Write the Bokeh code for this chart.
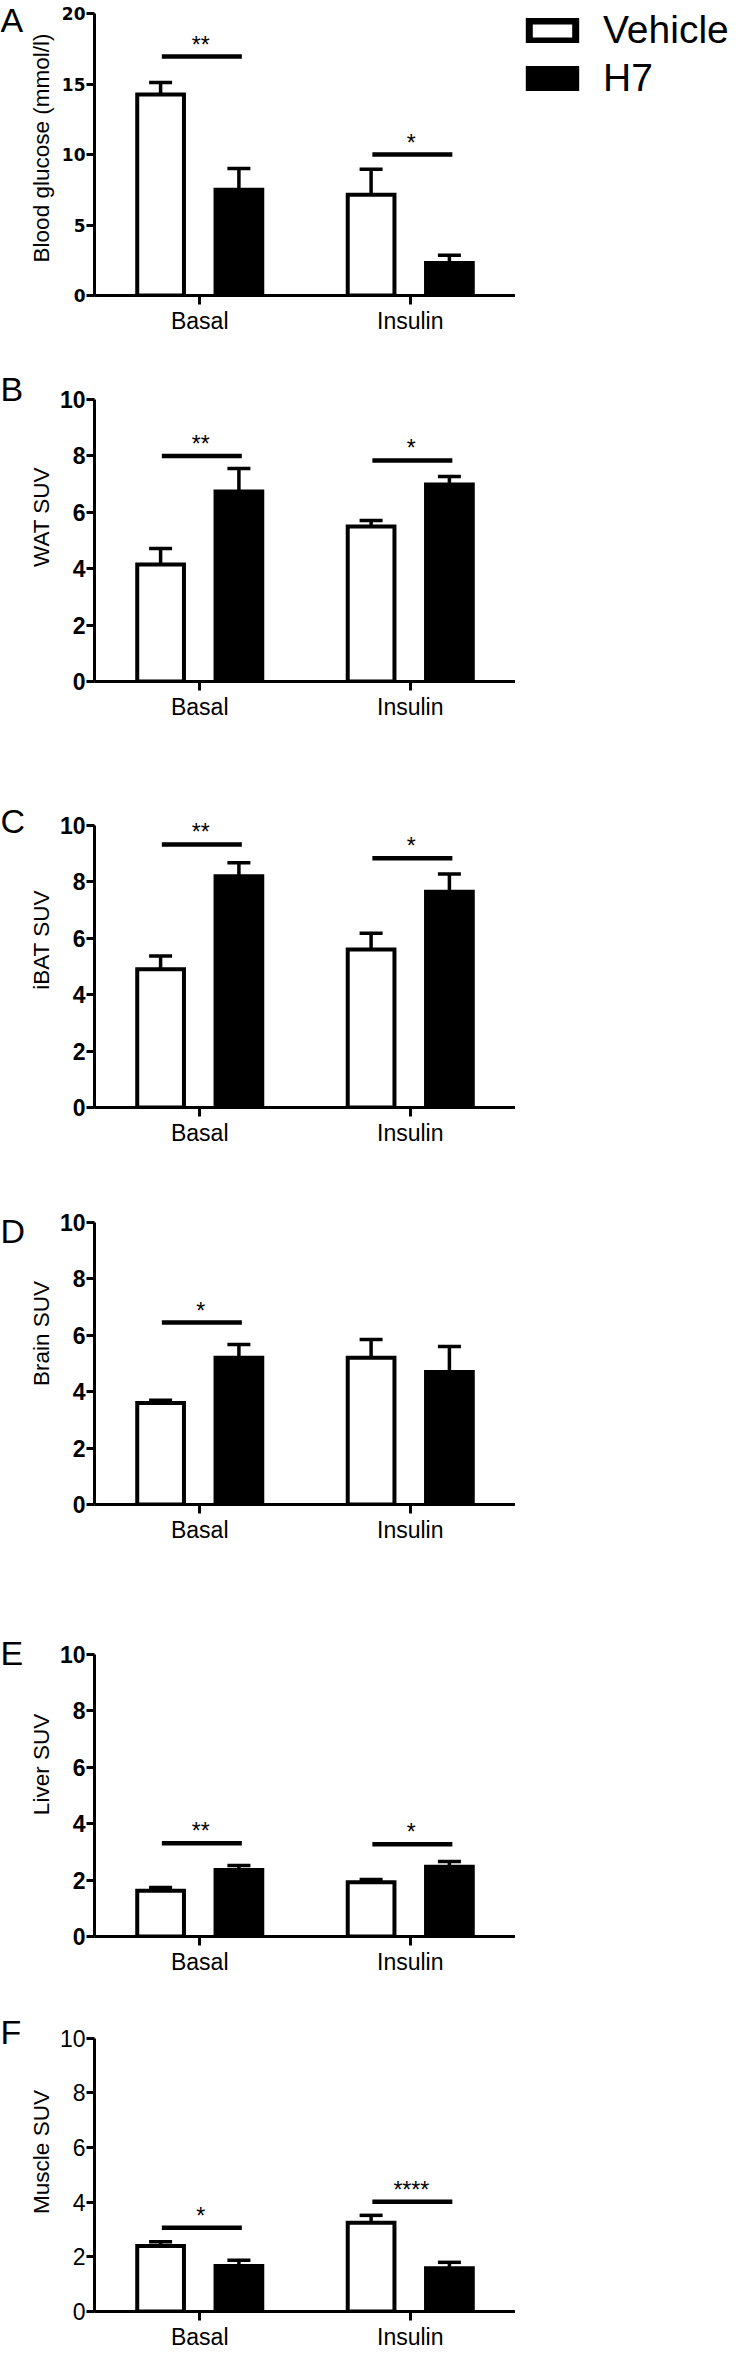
from bokeh.plotting import figure
from bokeh.models import (ColumnDataSource, FactorRange, Range1d, FixedTicker,
                          Whisker, TeeHead, Label, Legend, LegendItem)
from bokeh.transform import dodge
from bokeh.layouts import column, row
from bokeh.core.properties import value
from bokeh.embed import file_html
from bokeh.resources import INLINE

# ---------------- data ----------------
categories = ["Basal", "Insulin"]
groups = ["Vehicle", "H7"]
panel_letters = ["A", "B", "C", "D", "E", "F"]

# A: blood glucose (mmol/l)
glucose_vehicle = [14.25, 7.15]
glucose_vehicle_sem = [0.85, 1.80]
glucose_h7 = [7.50, 2.30]
glucose_h7_sem = [1.50, 0.55]
glucose_sig_cat = ["Basal", "Insulin"]
glucose_sig_y = [16.95, 10.0]
glucose_sig_text = ["**", "*"]

# B: WAT SUV
wat_vehicle = [4.15, 5.50]
wat_vehicle_sem = [0.57, 0.21]
wat_h7 = [6.74, 6.99]
wat_h7_sem = [0.81, 0.28]
wat_sig_cat = ["Basal", "Insulin"]
wat_sig_y = [8.0, 7.84]
wat_sig_text = ["**", "*"]

# C: iBAT SUV
ibat_vehicle = [4.90, 5.60]
ibat_vehicle_sem = [0.47, 0.58]
ibat_h7 = [8.20, 7.65]
ibat_h7_sem = [0.48, 0.63]
ibat_sig_cat = ["Basal", "Insulin"]
ibat_sig_y = [9.33, 8.84]
ibat_sig_text = ["**", "*"]

# D: Brain SUV
brain_vehicle = [3.60, 5.20]
brain_vehicle_sem = [0.10, 0.65]
brain_h7 = [5.20, 4.70]
brain_h7_sem = [0.47, 0.90]
brain_sig_cat = ["Basal"]
brain_sig_y = [6.45]
brain_sig_text = ["*"]

# E: Liver SUV
liver_vehicle = [1.62, 1.92]
liver_vehicle_sem = [0.12, 0.10]
liver_h7 = [2.36, 2.47]
liver_h7_sem = [0.16, 0.19]
liver_sig_cat = ["Basal", "Insulin"]
liver_sig_y = [3.31, 3.27]
liver_sig_text = ["**", "*"]

# F: Muscle SUV
muscle_vehicle = [2.40, 3.25]
muscle_vehicle_sem = [0.15, 0.27]
muscle_h7 = [1.67, 1.58]
muscle_h7_sem = [0.21, 0.22]
muscle_sig_cat = ["Basal", "Insulin"]
muscle_sig_y = [3.07, 4.02]
muscle_sig_text = ["*", "****"]

# ---------------- style ----------------
FONT = "Liberation Sans"
OFF = 0.186
BAR_W = 0.222
LETTER_W = 25
LEFT = 90 - LETTER_W
FRAME_W = 425


def bare_fig(width, height, y_top, bottom):
    f = figure(width=width, height=height,
               x_range=Range1d(0, width), y_range=Range1d(0, y_top),
               x_axis_type=None, y_axis_type=None,
               min_border_left=0, min_border_right=0, min_border_top=0,
               min_border_bottom=bottom,
               output_backend="svg", toolbar_location=None, tools="")
    f.outline_line_color = None
    f.xgrid.visible = False
    f.ygrid.visible = False
    return f


def make_panel(letter, letter_dy, ylabel, y_end, y_ticks, veh, veh_sem, h7, h7_sem,
               sig_cat, sig_y, sig_text, gap, plot_h, bottom,
               tick_font, tick_size, tick_style, ylabel_standoff):
    """gap: px between figure top and the top of the value axis; plot_h: px from 0 to y_end."""
    height = gap + plot_h + bottom
    y_top = y_end * (gap + plot_h) / plot_h
    p = figure(x_range=FactorRange(*categories), y_range=Range1d(0, y_top),
               width=LEFT + FRAME_W, height=height,
               min_border_left=LEFT, min_border_right=0,
               min_border_top=0, min_border_bottom=bottom,
               output_backend="svg", toolbar_location=None, tools="")
    p.outline_line_color = None
    p.xgrid.visible = False
    p.ygrid.visible = False

    src = ColumnDataSource(dict(
        cat=categories,
        veh=veh, veh_up=[m + e for m, e in zip(veh, veh_sem)],
        h7=h7, h7_up=[m + e for m, e in zip(h7, h7_sem)],
    ))

    # error bars (upper only), drawn under the bars
    for col, off in (("veh", -OFF), ("h7", OFF)):
        w = Whisker(source=src, base=dodge("cat", off, range=p.x_range),
                    lower=col, upper=col + "_up",
                    line_color="black", line_width=3.5,
                    lower_head=None,
                    upper_head=TeeHead(size=23, line_width=3.5, line_color="black"))
        p.add_layout(w)

    p.vbar(x=dodge("cat", -OFF, range=p.x_range), top="veh", width=BAR_W, source=src,
           fill_color="white", line_color="black", line_width=4, line_join="miter")
    p.vbar(x=dodge("cat", OFF, range=p.x_range), top="h7", width=BAR_W, source=src,
           fill_color="black", line_color="black", line_width=4, line_join="miter")

    sig = ColumnDataSource(dict(cat=sig_cat, y=sig_y, txt=sig_text))
    p.segment(x0=dodge("cat", -0.18, range=p.x_range), x1=dodge("cat", 0.20, range=p.x_range),
              y0="y", y1="y", source=sig, line_color="black", line_width=4.5)
    p.text(x=dodge("cat", 0.005, range=p.x_range), y="y", text="txt", source=sig,
           text_align="center", text_baseline="alphabetic", y_offset=-12,
           text_font=value(FONT), text_font_size="23px", text_color="black")

    xa = p.xaxis[0]
    xa.axis_line_width = 3
    xa.axis_line_color = "black"
    xa.major_tick_line_width = 3
    xa.major_tick_line_color = "black"
    xa.major_tick_out = 9
    xa.major_tick_in = 0
    xa.minor_tick_line_color = None
    xa.major_label_standoff = 3
    xa.major_label_text_font = FONT
    xa.major_label_text_font_size = "23px"
    xa.major_label_text_color = "black"

    ya = p.yaxis[0]
    ya.bounds = (0, y_end)
    ya.ticker = FixedTicker(ticks=y_ticks)
    ya.axis_line_width = 3
    ya.axis_line_color = "black"
    ya.major_tick_line_width = 3
    ya.major_tick_line_color = "black"
    ya.major_tick_out = 8
    ya.major_tick_in = 0
    ya.minor_tick_line_color = None
    ya.major_label_standoff = 1
    ya.major_label_text_font = tick_font
    ya.major_label_text_font_size = tick_size
    ya.major_label_text_font_style = tick_style
    ya.major_label_text_color = "black"
    ya.axis_label = ylabel
    ya.axis_label_text_font = FONT
    ya.axis_label_text_font_size = "22.5px"
    ya.axis_label_text_font_style = "normal"
    ya.axis_label_text_color = "black"
    ya.axis_label_standoff = ylabel_standoff

    # panel letter, in a narrow figure whose frame matches the panel's frame
    lf = bare_fig(LETTER_W, height, y_top, bottom)
    lf.add_layout(Label(x=0, y=y_end - letter_dy * y_end / plot_h, text=letter,
                        text_font=FONT, text_font_size="34px",
                        text_align="left", text_baseline="middle", text_color="black"))
    return lf, p


lA, pA = make_panel(panel_letters[0], 6, "Blood glucose (mmol/l)", 20, [0, 5, 10, 15, 20],
                    glucose_vehicle, glucose_vehicle_sem, glucose_h7, glucose_h7_sem,
                    glucose_sig_cat, glucose_sig_y, glucose_sig_text,
                    13, 282, 57, "DejaVu Sans", "17px", "bold", 5)
lB, pB = make_panel(panel_letters[1], -11, "WAT SUV", 10, [0, 2, 4, 6, 8, 10],
                    wat_vehicle, wat_vehicle_sem, wat_h7, wat_h7_sem,
                    wat_sig_cat, wat_sig_y, wat_sig_text,
                    47, 282, 91, FONT, "23px", "bold", 3)
lC, pC = make_panel(panel_letters[2], -5, "iBAT SUV", 10, [0, 2, 4, 6, 8, 10],
                    ibat_vehicle, ibat_vehicle_sem, ibat_h7, ibat_h7_sem,
                    ibat_sig_cat, ibat_sig_y, ibat_sig_text,
                    53, 282, 55, FONT, "23px", "bold", 3)
lD, pD = make_panel(panel_letters[3], 8, "Brain SUV", 10, [0, 2, 4, 6, 8, 10],
                    brain_vehicle, brain_vehicle_sem, brain_h7, brain_h7_sem,
                    brain_sig_cat, brain_sig_y, brain_sig_text,
                    60, 282, 88, FONT, "23px", "bold", 3)
lE, pE = make_panel(panel_letters[4], -2, "Liver SUV", 10, [0, 2, 4, 6, 8, 10],
                    liver_vehicle, liver_vehicle_sem, liver_h7, liver_h7_sem,
                    liver_sig_cat, liver_sig_y, liver_sig_text,
                    62, 282, 56, FONT, "23px", "bold", 3)
lF, pF = make_panel(panel_letters[5], -6, "Muscle SUV", 10, [0, 2, 4, 6, 8, 10],
                    muscle_vehicle, muscle_vehicle_sem, muscle_h7, muscle_h7_sem,
                    muscle_sig_cat, muscle_sig_y, muscle_sig_text,
                    46, 274, 40, FONT, "23px", "normal", 3)

# legend figure (to the right of panel A); key glyphs only, no data marks
leg = bare_fig(217, 352, 1, 57)
nan = float("nan")
key_src = ColumnDataSource(dict(x=[nan], top=[nan]))
r_veh = leg.vbar(x="x", top="top", width=0.5, source=key_src,
                 fill_color="white", line_color="black", line_width=7, line_join="miter")
r_h7 = leg.vbar(x="x", top="top", width=0.5, source=key_src,
                fill_color="black", line_color="black", line_width=7, line_join="miter")
legend = Legend(items=[LegendItem(label=groups[0], renderers=[r_veh]),
                       LegendItem(label=groups[1], renderers=[r_h7])],
                location="top_left", margin=8, padding=0, spacing=4,
                glyph_width=58, glyph_height=25, label_standoff=22,
                label_text_font=FONT, label_text_font_size="39px", label_text_color="black",
                border_line_color=None, background_fill_alpha=0)
leg.add_layout(legend)

layout = column(row(lA, pA, leg), row(lB, pB), row(lC, pC),
                row(lD, pD), row(lE, pE), row(lF, pF))

with open("out.html", "w") as f:
    f.write(file_html(layout, INLINE))
